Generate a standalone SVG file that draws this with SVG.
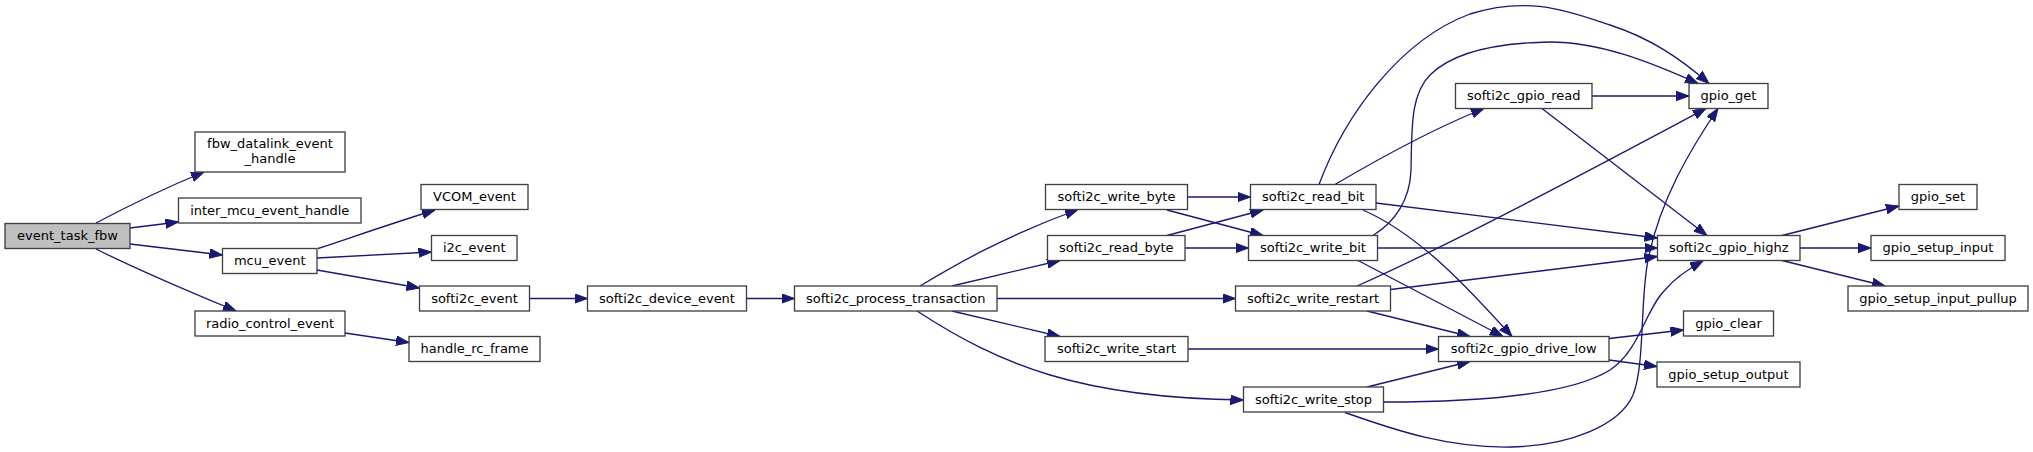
<svg xmlns="http://www.w3.org/2000/svg" width="2033" height="452" viewBox="0 0 2033 452">
<style>
.n rect{fill:#ffffff;stroke:#404040;stroke-width:1.33}
.n.root rect{fill:#bfbfbf}
.n text{font-family:"DejaVu Sans","Liberation Sans",sans-serif;font-size:13px;text-anchor:middle;fill:#000000}
.e path{fill:none;stroke:#191970;stroke-width:1.33;marker-end:url(#ah)}
</style>
<defs>
<marker id="ah" markerWidth="14" markerHeight="11" refX="13" refY="4.75" orient="auto" markerUnits="userSpaceOnUse">
<path d="M0,0 L13,4.75 L0,9.5 z" fill="#191970" stroke="#191970" stroke-width="1"/>
</marker>
</defs>
<rect width="2033" height="452" fill="#ffffff"/>
<g id="edges" class="e">
<path d="M96,223 C130,205 165,188 204,172"/>
<path d="M130,228 L178.5,222"/>
<path d="M130,244 L222.5,255"/>
<path d="M96,249 C130,266 190,292 236,311"/>
<path d="M345,333 L409,342.5"/>
<path d="M318,248.5 C350,238 390,224 435,210"/>
<path d="M317,258 L431.5,252"/>
<path d="M317,270 L419.5,288"/>
<path d="M529.5,298.5 L587.5,298.5"/>
<path d="M746.5,298.5 L794.5,298.5"/>
<path d="M920,286 C950,268 1000,238 1078,209.5"/>
<path d="M952,286 L1060,260.5"/>
<path d="M997,298.5 L1235.5,298.5"/>
<path d="M952,311 L1060,336.5"/>
<path d="M917,311 C1000,365 1080,398 1243.5,400"/>
<path d="M1187.5,197 L1250.5,197"/>
<path d="M1167,210 L1263,235.5"/>
<path d="M1167,235.5 L1263,210"/>
<path d="M1185,248 L1248.5,248"/>
<path d="M1319,184.5 C1345,115 1400,40 1470,14 C1530,-5 1570,12 1610,25 C1650,38 1680,58 1709,83.5"/>
<path d="M1335,184.5 C1380,158 1430,130 1484,108.5"/>
<path d="M1376,203 L1657.5,238"/>
<path d="M1363,210 C1420,235 1470,290 1512,336.5"/>
<path d="M1373,235.5 C1395,222 1410,200 1411,170 C1412,130 1410,95 1430,75 C1450,55 1490,43 1550,42 C1600,42 1650,62 1698,83.5"/>
<path d="M1377.5,248 L1657.5,248"/>
<path d="M1358,260.5 L1503,336.5"/>
<path d="M1357,286 C1450,245 1600,165 1706,108.5"/>
<path d="M1390.5,289.5 L1657.5,256.5"/>
<path d="M1367,311 L1470,336.5"/>
<path d="M1188,349 L1438.5,349"/>
<path d="M1367,387 L1470,361.5"/>
<path d="M1383.5,402 C1480,402 1570,395 1610,370 C1640,350 1645,310 1665,290 C1675,278 1690,268 1703,261"/>
<path d="M1345,412.5 C1400,432 1450,448 1510,447 C1570,446 1620,425 1633,395 C1645,365 1640,300 1648,260 C1660,200 1690,150 1718,108.5"/>
<path d="M1592,96 L1689,96"/>
<path d="M1542,108.5 L1707,235.5"/>
<path d="M1782,235.5 L1899,206"/>
<path d="M1800,248 L1871,248"/>
<path d="M1782,260.5 L1885,286"/>
<path d="M1609,338.5 L1683.5,330"/>
<path d="M1609,360 L1657,366.5"/>
</g>
<g id="node_event_task_fbw" class="n root"><rect x="5" y="223.5" width="125" height="25"/><text x="67.5" y="240">event_task_fbw</text></g>
<g id="node_fbw_datalink_event_handle" class="n"><rect x="195" y="132" width="150" height="40"/><text x="270" y="147.5">fbw_datalink_event</text><text x="270" y="162.5">_handle</text></g>
<g id="node_inter_mcu_event_handle" class="n"><rect x="178.5" y="198" width="182.5" height="25"/><text x="269.75" y="214.5">inter_mcu_event_handle</text></g>
<g id="node_mcu_event" class="n"><rect x="222.5" y="248.5" width="94.5" height="25"/><text x="269.75" y="265">mcu_event</text></g>
<g id="node_radio_control_event" class="n"><rect x="195" y="311" width="150" height="25"/><text x="270" y="327.5">radio_control_event</text></g>
<g id="node_VCOM_event" class="n"><rect x="421" y="184.5" width="107" height="25"/><text x="474.5" y="201">VCOM_event</text></g>
<g id="node_i2c_event" class="n"><rect x="431.5" y="235.5" width="85.5" height="25"/><text x="474.25" y="252">i2c_event</text></g>
<g id="node_softi2c_event" class="n"><rect x="419.5" y="286" width="110" height="25"/><text x="474.5" y="302.5">softi2c_event</text></g>
<g id="node_handle_rc_frame" class="n"><rect x="409" y="336.5" width="131" height="25"/><text x="474.5" y="353">handle_rc_frame</text></g>
<g id="node_softi2c_device_event" class="n"><rect x="587.5" y="286" width="159" height="25"/><text x="667" y="302.5">softi2c_device_event</text></g>
<g id="node_softi2c_process_transaction" class="n"><rect x="794.5" y="286" width="202.5" height="25"/><text x="895.75" y="302.5">softi2c_process_transaction</text></g>
<g id="node_softi2c_write_byte" class="n"><rect x="1045.5" y="184.5" width="142" height="25"/><text x="1116.5" y="201">softi2c_write_byte</text></g>
<g id="node_softi2c_read_byte" class="n"><rect x="1047.5" y="235.5" width="137.5" height="25"/><text x="1116.25" y="252">softi2c_read_byte</text></g>
<g id="node_softi2c_write_start" class="n"><rect x="1045" y="336.5" width="143" height="25"/><text x="1116.5" y="353">softi2c_write_start</text></g>
<g id="node_softi2c_write_restart" class="n"><rect x="1235.5" y="286" width="155" height="25"/><text x="1313" y="302.5">softi2c_write_restart</text></g>
<g id="node_softi2c_write_stop" class="n"><rect x="1243.5" y="387" width="140" height="25"/><text x="1313.5" y="403.5">softi2c_write_stop</text></g>
<g id="node_softi2c_read_bit" class="n"><rect x="1250.5" y="184.5" width="125.5" height="25"/><text x="1313.25" y="201">softi2c_read_bit</text></g>
<g id="node_softi2c_write_bit" class="n"><rect x="1248.5" y="235.5" width="129" height="25"/><text x="1313" y="252">softi2c_write_bit</text></g>
<g id="node_softi2c_gpio_read" class="n"><rect x="1455.5" y="83.5" width="136.5" height="25"/><text x="1523.75" y="100">softi2c_gpio_read</text></g>
<g id="node_softi2c_gpio_drive_low" class="n"><rect x="1438.5" y="336.5" width="170.5" height="25"/><text x="1523.75" y="353">softi2c_gpio_drive_low</text></g>
<g id="node_gpio_get" class="n"><rect x="1689" y="83.5" width="79" height="25"/><text x="1728.5" y="100">gpio_get</text></g>
<g id="node_softi2c_gpio_highz" class="n"><rect x="1657.5" y="235.5" width="142.5" height="25"/><text x="1728.75" y="252">softi2c_gpio_highz</text></g>
<g id="node_gpio_clear" class="n"><rect x="1683.5" y="311" width="90" height="25"/><text x="1728.5" y="327.5">gpio_clear</text></g>
<g id="node_gpio_setup_output" class="n"><rect x="1657" y="362" width="143" height="25"/><text x="1728.5" y="378.5">gpio_setup_output</text></g>
<g id="node_gpio_set" class="n"><rect x="1899" y="184.5" width="78" height="25"/><text x="1938" y="201">gpio_set</text></g>
<g id="node_gpio_setup_input" class="n"><rect x="1871" y="235.5" width="134" height="25"/><text x="1938" y="252">gpio_setup_input</text></g>
<g id="node_gpio_setup_input_pullup" class="n"><rect x="1848" y="286" width="180" height="25"/><text x="1938" y="302.5">gpio_setup_input_pullup</text></g>
</svg>
